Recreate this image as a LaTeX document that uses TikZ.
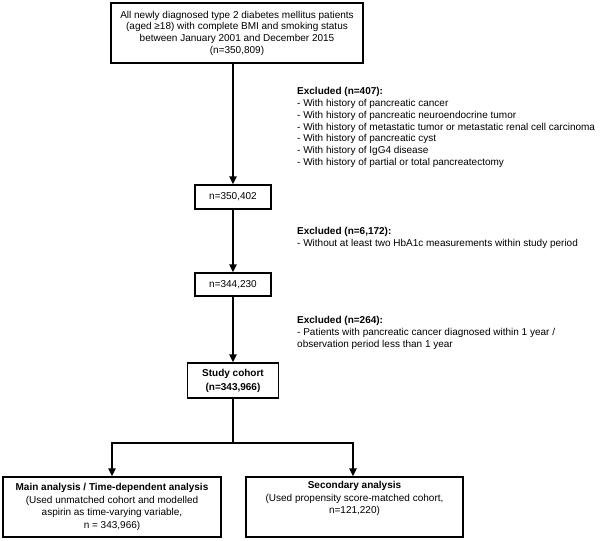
\documentclass[tikz,border=0pt]{standalone}
\usepackage{fontspec}
\setmainfont{Liberation Sans}
\usetikzlibrary{arrows.meta}
\tikzset{
  box/.style={draw=black, line width=1.4pt, inner sep=0pt, align=center},
  arr/.style={line width=1.5pt, -{Triangle[width=7.5pt,length=8pt]}},
  conn/.style={line width=1.5pt},
  excl/.style={anchor=west, align=left, inner sep=0pt, font=\fontsize{10}{11.8}\selectfont},
}
\begin{document}
\begin{tikzpicture}[x=1pt,y=-1pt]
\useasboundingbox[fill=white] (0,0) rectangle (600,541);
% boxes
\node[box, minimum width=252pt, minimum height=60pt, font=\fontsize{10}{11.7}\selectfont] (top) at (237,33)
  {All newly diagnosed type 2 diabetes mellitus patients\\(aged ≥18) with complete BMI and smoking status\\between January 2001 and December 2015\\(n=350,809)};
\node[box, minimum width=76pt, minimum height=24pt, font=\fontsize{10}{12}\selectfont] (b1) at (233,197) {n=350,402};
\node[box, minimum width=76pt, minimum height=23pt, font=\fontsize{10}{12}\selectfont] (b2) at (233,284.5) {n=344,230};
\node[box, minimum width=91pt, minimum height=35pt, font=\bfseries\fontsize{10}{14}\selectfont] (study) at (233,380.5) {Study cohort\\(n=343,966)};
\node[box, minimum width=218pt, minimum height=60pt, font=\fontsize{10}{12.6}\selectfont] (main) at (112,507)
  {\textbf{Main analysis / Time-dependent analysis}\\(Used unmatched cohort and modelled\\aspirin as time-varying variable,\\n = 343,966)};
\node[box, minimum width=217pt, minimum height=60pt] (sec) at (354.5,507) {};
\node[anchor=north, align=center, inner sep=0pt, font=\fontsize{10}{12.6}\selectfont] (sectext) at ([yshift=-5pt]sec.north)
  {\textbf{Secondary analysis}\\(Used propensity score-matched cohort,\\n=121,220)};
% exclusion texts
\node[excl] (ex1) at (297,127.5) {\textbf{Excluded (n=407):}\\
- With history of pancreatic cancer\\
- With history of pancreatic neuroendocrine tumor\\
- With history of metastatic tumor or metastatic renal cell carcinoma\\
- With history of pancreatic cyst\\
- With history of IgG4 disease\\
- With history of partial or total pancreatectomy};
\node[excl] (ex2) at (297,238) {\textbf{Excluded (n=6,172):}\\
- Without at least two HbA1c measurements within study period};
\node[excl] (ex3) at (297,333) {\textbf{Excluded (n=264):}\\
- Patients with pancreatic cancer diagnosed within 1 year /\\
observation period less than 1 year};
% connectors
\draw[arr] (top.south -| b1.north) -- (b1.north);
\draw[arr] (b1.south) -- (b2.north);
\draw[arr] (b2.south) -- (study.north);
\coordinate (split) at (233,443);
\draw[conn] (study.south) -- (split);
\draw[arr] (split) -| (main.north);
\draw[arr] (split) -| ([xshift=-1.5pt]sec.north);
\end{tikzpicture}
\end{document}
